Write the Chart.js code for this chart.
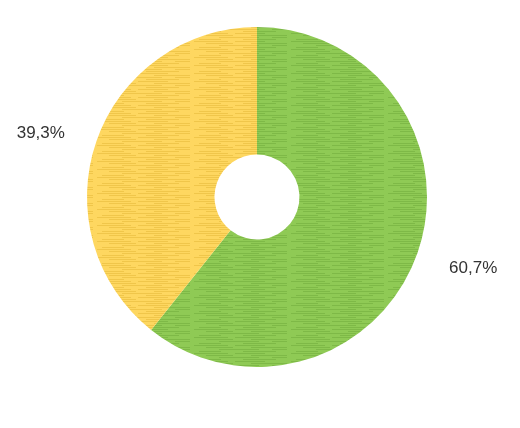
<!DOCTYPE html>
<html>
<head>
<meta charset="utf-8">
<script src="https://cdn.jsdelivr.net/npm/chart.js@4"></script>
<style>
  html, body { margin: 0; padding: 0; background: #fff; }
  #wrap { width: 520px; height: 428px; position: relative; }
</style>
</head>
<body>
<div id="wrap"><canvas id="pieChart"></canvas></div>
<script>
const categories = ['A', 'B'];
const shares = [60.7, 39.3];
const shareLabels = ['60,7%', '39,3%'];

// horizontal streak texture like the original (fixed stripe layout)
const streaks = [[0, 1, 34], [41, 1, 30], [12, 3, 27], [57, 3, 36], [25, 5, 40], [78, 5, 15], [5, 7, 22], [49, 7, 33]];
function texture(base, dark) {
    const c = document.createElement('canvas');
    c.width = 97; c.height = 8;
    const g = c.getContext('2d');
    g.fillStyle = base;
    g.fillRect(0, 0, 97, 8);
    g.fillStyle = dark;
    streaks.forEach(([x, y, w]) => g.fillRect(x, y, w, 1));
    return g.createPattern(c, 'repeat');
}
const patterns = [
    texture('#8fca55', 'rgba(95,155,45,0.35)'),
    texture('#fed760', 'rgba(215,165,35,0.35)')
];

const outsideLabels = {
    id: 'outsideLabels',
    afterDatasetsDraw(chart) {
        const ctx = chart.ctx;
        const meta = chart.getDatasetMeta(0);
        const nudgeY = [-4, 12];
        ctx.save();
        ctx.font = '17px "Liberation Sans", Arial, sans-serif';
        ctx.fillStyle = '#333333';
        ctx.textAlign = 'center';
        ctx.textBaseline = 'middle';
        meta.data.forEach((arc, i) => {
            const mid = (arc.startAngle + arc.endAngle) / 2;
            const r = arc.outerRadius + 59;
            ctx.fillText(shareLabels[i], arc.x + Math.cos(mid) * r, arc.y + Math.sin(mid) * r + nudgeY[i]);
        });
        ctx.restore();
    }
};

const ctx = document.getElementById('pieChart').getContext('2d');
new Chart(ctx, {
    type: 'doughnut',
    data: {
        labels: categories,
        datasets: [{ data: shares, backgroundColor: patterns, borderWidth: 0 }]
    },
    options: {
        animation: false,
        responsive: true,
        maintainAspectRatio: false,
        cutout: '25%',
        layout: { padding: { left: 87, right: 93, top: 27, bottom: 61 } },
        plugins: { legend: { display: false }, tooltip: { enabled: false } }
    },
    plugins: [outsideLabels]
});
</script>
</body>
</html>
